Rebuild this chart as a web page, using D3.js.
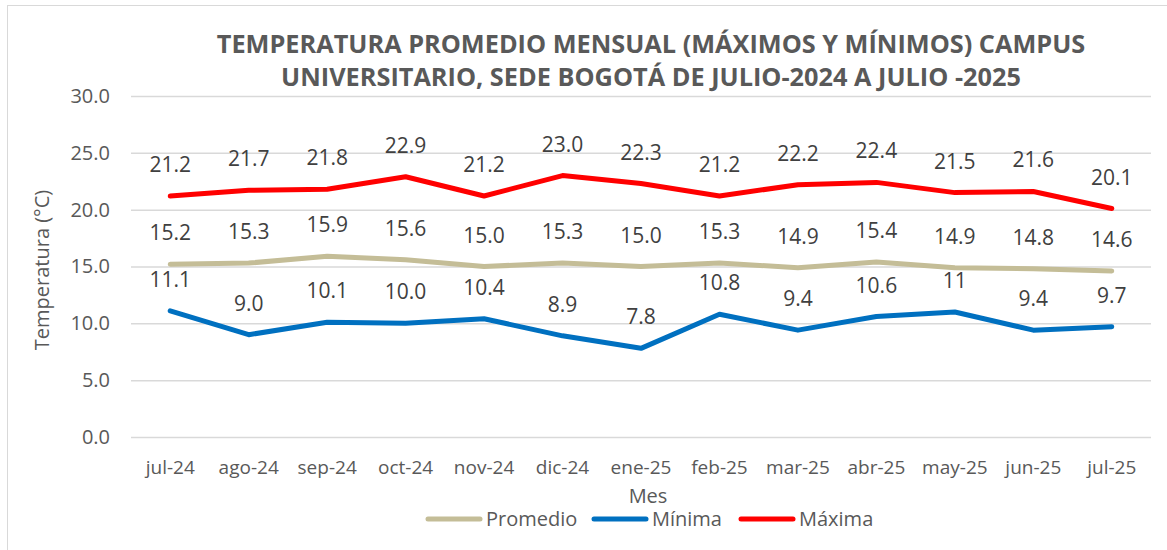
<!DOCTYPE html>
<html>
<head>
<meta charset="utf-8">
<script src="https://cdn.jsdelivr.net/npm/d3@7"></script>
<style>
  body { margin: 0; background: #fff; }
  text { font-family: 'Open Sans', sans-serif; }
</style>
</head>
<body>
<div id="chart-area"></div>
<script>
const months = ['jul-24', 'ago-24', 'sep-24', 'oct-24', 'nov-24', 'dic-24', 'ene-25',
  'feb-25', 'mar-25', 'abr-25', 'may-25', 'jun-25', 'jul-25'];
const promedio = [15.2, 15.3, 15.9, 15.6, 15.0, 15.3, 15.0, 15.3, 14.9, 15.4, 14.9, 14.8, 14.6];
const minima = [11.1, 9.0, 10.1, 10.0, 10.4, 8.9, 7.8, 10.8, 9.4, 10.6, 11, 9.4, 9.7];
const maxima = [21.2, 21.7, 21.8, 22.9, 21.2, 23.0, 22.3, 21.2, 22.2, 22.4, 21.5, 21.6, 20.1];
const minLabels = ['11.1', '9.0', '10.1', '10.0', '10.4', '8.9', '7.8', '10.8', '9.4', '10.6', '11', '9.4', '9.7'];
const yTicks = [0, 5, 10, 15, 20, 25, 30];

const series = [
  { name: 'Promedio', values: promedio, color: '#C4BD97', labels: promedio.map(d => d.toFixed(1)) },
  { name: 'Mínima', values: minima, color: '#0070C0', labels: minLabels },
  { name: 'Máxima', values: maxima, color: '#FF0000', labels: maxima.map(d => d.toFixed(1)) }
];

const W = 1167, H = 550;
const margins = { top: 96, right: 16, bottom: 113, left: 131 };
const width = W - margins.left - margins.right;
const height = H - margins.top - margins.bottom;

const svg = d3.select('#chart-area')
  .append('svg')
  .attr('width', W)
  .attr('height', H);

// chart border
svg.append('rect')
  .attr('x', 7.5).attr('y', 5.5)
  .attr('width', W).attr('height', H)
  .attr('fill', 'none')
  .attr('stroke', '#d9d9d9');

// title
svg.append('text')
  .attr('x', 651).attr('y', 53)
  .attr('text-anchor', 'middle')
  .attr('font-size', '25.3px').attr('font-weight', 'bold')
  .attr('fill', '#595959')
  .text('TEMPERATURA PROMEDIO MENSUAL (MÁXIMOS Y MÍNIMOS) CAMPUS');
svg.append('text')
  .attr('x', 651).attr('y', 86)
  .attr('text-anchor', 'middle')
  .attr('font-size', '25.3px').attr('font-weight', 'bold')
  .attr('fill', '#595959')
  .text('UNIVERSITARIO, SEDE BOGOTÁ DE JULIO-2024 A JULIO -2025');

const g = svg.append('g')
  .attr('transform', 'translate(' + margins.left + ', ' + margins.top + ')');

const x = d3.scaleBand()
  .domain(months)
  .range([0, width]);

const y = d3.scaleLinear()
  .domain([0, 30])
  .range([height, 0]);

// gridlines + y axis
const yAxisCall = d3.axisLeft(y)
  .tickValues(yTicks)
  .tickSize(-width)
  .tickFormat(d => d.toFixed(1));

const yAxis = g.append('g')
  .attr('class', 'y axis-left')
  .call(yAxisCall);
yAxis.select('.domain').remove();
yAxis.selectAll('line').attr('stroke', '#d9d9d9').attr('stroke-width', 1.5);
yAxis.selectAll('text')
  .attr('x', -21)
  .attr('font-size', '20px')
  .attr('fill', '#595959');

// x axis
const xAxisCall = d3.axisBottom(x).tickSize(0);
const xAxis = g.append('g')
  .attr('class', 'x axis-bottom')
  .attr('transform', 'translate(0, ' + height + ')')
  .call(xAxisCall);
xAxis.select('.domain').remove();
xAxis.selectAll('text')
  .attr('dy', 0)
  .attr('y', 37)
  .attr('font-size', '19px')
  .attr('fill', '#595959');

// axis titles
svg.append('text')
  .attr('transform', 'translate(49, 270) rotate(-90)')
  .attr('text-anchor', 'middle')
  .attr('font-size', '20px')
  .attr('fill', '#595959')
  .text('Temperatura (°C)');

svg.append('text')
  .attr('x', 648).attr('y', 503)
  .attr('text-anchor', 'middle')
  .attr('font-size', '20px')
  .attr('fill', '#595959')
  .text('Mes');

// lines
const line = d3.line()
  .x((d, i) => x(months[i]) + x.bandwidth() / 2)
  .y(d => y(d));

series.forEach(s => {
  g.append('path')
    .datum(s.values)
    .attr('fill', 'none')
    .attr('stroke', s.color)
    .attr('stroke-width', 5)
    .attr('stroke-linecap', 'round')
    .attr('stroke-linejoin', 'round')
    .attr('d', line);
});

// data labels
series.forEach(s => {
  g.selectAll(null)
    .data(s.values)
    .enter()
    .append('text')
    .attr('x', (d, i) => x(months[i]) + x.bandwidth() / 2)
    .attr('y', d => y(d) - 24)
    .attr('text-anchor', 'middle')
    .attr('font-size', '21px')
    .attr('fill', '#404040')
    .text((d, i) => s.labels[i]);
});

// legend
const legendX = [426, 592, 739];
const legend = svg.append('g');
series.forEach((s, i) => {
  legend.append('line')
    .attr('x1', legendX[i] + 2).attr('x2', legendX[i] + 54)
    .attr('y1', 519).attr('y2', 519)
    .attr('stroke', s.color)
    .attr('stroke-width', 5)
    .attr('stroke-linecap', 'round');
  legend.append('text')
    .attr('x', legendX[i] + 60).attr('y', 526)
    .attr('font-size', '20px')
    .attr('fill', '#595959')
    .text(s.name);
});
</script>
</body>
</html>
